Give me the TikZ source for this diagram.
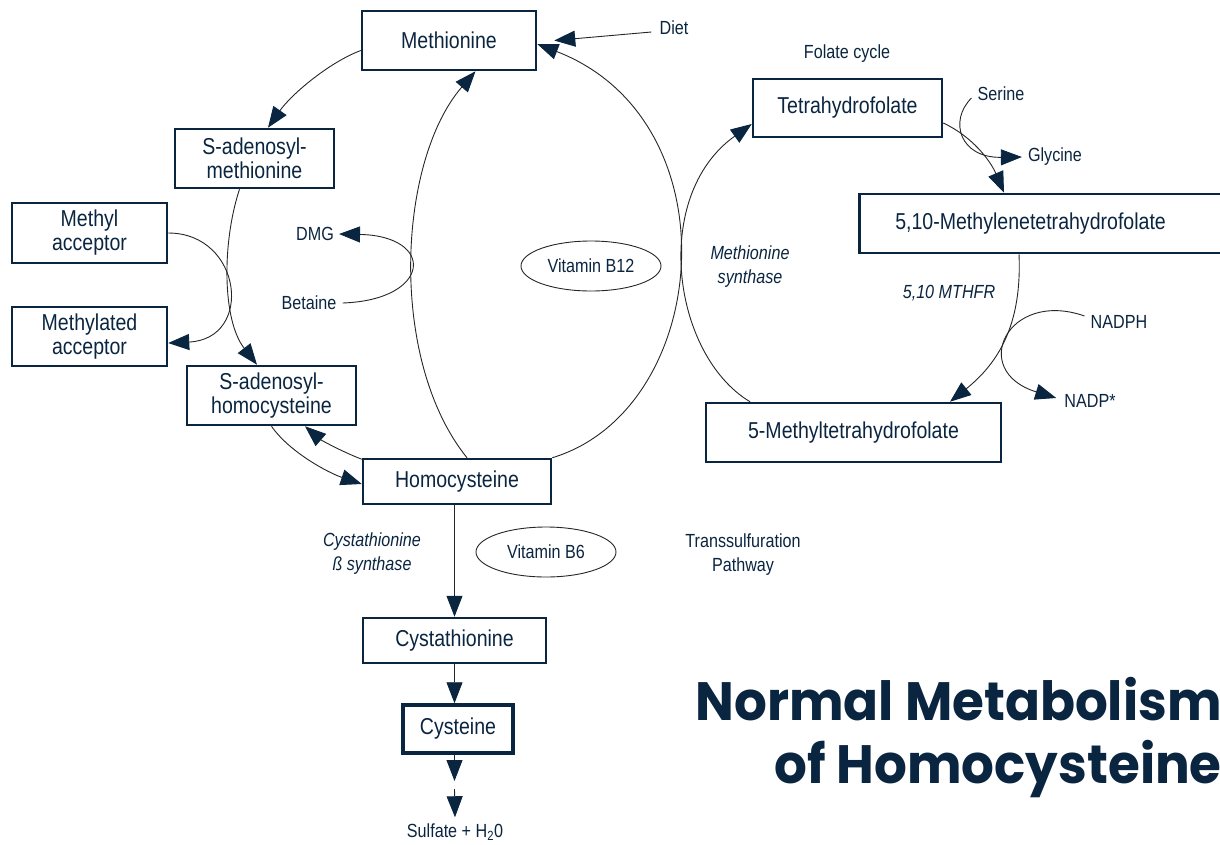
\documentclass[tikz,border=0pt]{standalone}
\usepackage{fontspec}
\setmainfont{Liberation Sans}[FakeStretch=0.85]
\newfontfamily\titlefont{Poppins}[FakeStretch=0.955]
\usetikzlibrary{arrows.meta,shapes.geometric}
\definecolor{navy}{HTML}{0A2540}
\newcommand{\boxfont}{\fontsize{23}{24}\selectfont}
\newcommand{\labfont}{\fontsize{19}{24}\selectfont}

\begin{document}
\begin{tikzpicture}[x=1pt,y=-1pt,
  metabox/.style={draw=navy,line width=2.5pt,text=navy,font=\boxfont,align=center,inner sep=0pt},
  lbl/.style={text=navy,font=\labfont,align=center,inner sep=0pt},
  enz/.style={lbl,font=\labfont\itshape},
  vit/.style={ellipse,draw=black!85,line width=0.9pt,text=navy,font=\labfont,
    minimum width=140pt,minimum height=50pt,inner sep=0pt},
  flow/.style={draw=black!85,line width=0.9pt,-{Triangle[length=21pt,width=16pt,color=navy]}},
  titletext/.style={text=navy,font=\titlefont\bfseries\fontsize{54}{63}\selectfont,inner sep=0pt}]
\useasboundingbox (0,0) rectangle (1220,844);

% methionine cycle
\node[metabox,minimum width=174pt,minimum height=59pt] (meth) at (449,40.5) {Methionine};
\node[metabox,minimum width=159pt,minimum height=59pt] (sam) at (254.5,158.5) {S-adenosyl-\\methionine};
\node[metabox,minimum width=155pt,minimum height=60pt] (macc) at (89.5,233) {Methyl\\acceptor};
\node[metabox,minimum width=155pt,minimum height=59pt] (mdacc) at (89.5,336.5) {Methylated\\acceptor};
\node[metabox,minimum width=169pt,minimum height=59pt] (sah) at (271.5,395.5) {S-adenosyl-\\homocysteine};
\node[metabox,minimum width=188pt,minimum height=45pt] (hcy) at (457,481.5) {Homocysteine};
\node[metabox,minimum width=183pt,minimum height=45pt] (cysta) at (454.5,640.5) {Cystathionine};
\node[metabox,line width=3.5pt,minimum width=110pt,minimum height=48pt] (cys) at (458,729) {Cysteine};

% folate cycle
\node[metabox,minimum width=189pt,minimum height=58pt] (thf) at (847.5,108) {Tetrahydrofolate};
\node[metabox,anchor=west,minimum height=59pt,text width=340pt,align=left,inner xsep=36pt] (mthf510) at (858,223.5) {5,10-Methylenetetrahydrofolate};
\node[metabox,minimum width=295pt,minimum height=59pt] (mthf5) at (853.5,432.5) {5-Methyltetrahydrofolate};

\node[vit] (b12) at (591,266) {Vitamin B12};
\node[vit] (b6) at (546,552) {Vitamin B6};

\node[lbl] (diet) at (674,28) {Diet};
\node[lbl] (folate) at (847,54) {Folate cycle};
\node[lbl] (serine) at (1001,94) {Serine};
\node[lbl] (glycine) at (1055,157) {Glycine};
\node[enz] (mthfr) at (949,293) {5,10 MTHFR};
\node[lbl] (nadph) at (1119,322) {NADPH};
\node[lbl] (nadp) at (1090,401) {NADP*};
\node[enz] (msyn) at (750,267) {Methionine\\synthase};
\node[lbl] (dmg) at (315,234) {DMG};
\node[lbl] (betaine) at (309,303) {Betaine};
\node[enz] (cbs) at (372,554) {Cystathionine\\ß synthase};
\node[lbl] (trans) at (743,555) {Transsulfuration\\Pathway};
\node[lbl] (sulf) at (455,832) {Sulfate + H\textsubscript{2}0};

\node[titletext,anchor=base east] (title1) at (1222,720) {Normal Metabolism};
\node[titletext,anchor=base east] (title2) at (1222,783) {of Homocysteine};

\coordinate (c1) at (454.5,781);
\coordinate (c2) at (454.5,789);

\draw[flow] ([xshift=-8pt,yshift=-4pt]diet.west) -- ([xshift=17pt]meth.east);
\draw[flow] ([yshift=-10pt]meth.west) .. controls +(-32,12) and +(23,-33) .. ([xshift=13.5pt]sam.north);
\draw[flow] ([xshift=-15pt]sam.south) .. controls +(-17.5,53) and +(-35,-45) .. ([xshift=-14.5pt]sah.north);
\draw[flow] (macc.east) .. controls +(74,0) and +(86,-4) .. ([yshift=-6.5pt]mdacc.east);
\draw[flow] ([xshift=6pt]betaine.east) .. controls +(89,-3) and +(97,2) .. ([xshift=5pt]dmg.east);
\draw[flow] ([xshift=10pt]hcy.north) .. controls +(-79,-98) and +(-78,90) .. ([xshift=26.5pt]meth.south);
\draw[flow] (hcy.north east) .. controls +(159,-48) and +(199,77) .. ([yshift=-3.5pt]meth.east);
\draw[flow] ([yshift=-1.5pt]hcy.north west) .. controls +(-23,-9) and +(15,13) .. ([xshift=33.5pt]sah.south);
\draw[flow] (sah.south) .. controls +(18,26) and +(-33,-11) .. ([yshift=-2.5pt]hcy.west);
\draw[flow] (hcy.south -| cysta.north) -- (cysta.north);
\draw[flow] (cysta.south) -- (cysta.south |- cys.north);
\draw[flow] (cysta.south |- cys.south) -- (c1);
\draw[flow] (c2) -- ([yshift=6pt]sulf.north);

\draw[flow] ([xshift=-103.5pt]mthf5.north) .. controls +(-78,-47) and +(-101,72) .. ([yshift=-16pt]thf.west);
\draw[flow] ([yshift=-15pt]thf.east) .. controls +(28,13) and +(-14,-33) .. ([xshift=146pt]mthf510.north west);
\draw[flow] ([xshift=-6pt,yshift=-4pt]serine.west) .. controls +(-23,23) and +(-62,1) .. ([xshift=-6pt]glycine.west);
\draw[flow] ([xshift=161pt]mthf510.south west) .. controls +(3,68) and +(50,-40) .. ([xshift=96.5pt]mthf5.north);
\draw[flow] ([xshift=-6pt,yshift=6pt]nadph.west) .. controls +(-77,-27) and +(-88,-27) .. ([xshift=-8pt,yshift=3pt]nadp.west);
\end{tikzpicture}
\end{document}
